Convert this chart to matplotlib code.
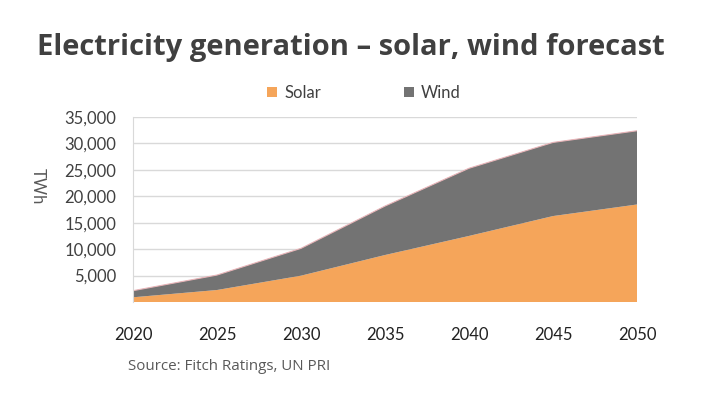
import matplotlib
matplotlib.use("Agg")
import matplotlib.pyplot as plt
import numpy as np

years = [2020, 2025, 2030, 2035, 2040, 2045, 2050]
solar = [890, 2270, 4980, 8890, 12500, 16260, 18450]
wind = [1250, 2830, 5170, 9260, 12800, 13930, 13950]
yticks = [5000, 10000, 15000, 20000, 25000, 30000, 35000]
xlabels = ["2020", "2025", "2030", "2035", "2040", "2045", "2050"]

solar_c = "#F5A55A"
wind_c = "#737373"
txt = "#404040"

fig = plt.figure(figsize=(7.08, 3.98), dpi=100)
ax = fig.add_axes([133/708, 1-302/398, (637-133)/708, (302-117)/398])

ax.stackplot(years, solar, wind, colors=[solar_c, wind_c], labels=["Solar", "Wind"],
             linewidth=0)
total = np.array(solar) + np.array(wind)
ax.plot(years, total, color="#E8B4B8", lw=0.8)

ax.set_xlim(2020, 2050)
ax.set_ylim(0, 35000)
ax.set_yticks(yticks)
ax.set_yticklabels([f"{v:,}" for v in yticks], fontsize=12, color=txt, family="Lato")
ax.set_xticks(years)
ax.set_xticklabels(xlabels, fontsize=12, color="#222222", family="Lato")
ax.tick_params(axis="both", length=0)
ax.tick_params(axis="x", pad=18)
ax.tick_params(axis="y", pad=12)
ax.grid(axis="y", color="#D9D9D9", lw=1)
ax.set_axisbelow(True)
for s in ["top", "right", "bottom"]:
    ax.spines[s].set_visible(False)
ax.spines["left"].set_color("#D9D9D9")

fig.text(38/708, 1-186/398, "TWh", rotation=-90, ha="center", va="center",
         fontsize=12, color="#595959", family="Lato")

fig.text(37/708, 1-48/398, "Electricity generation \u2013 solar, wind forecast",
         fontsize=21, fontweight="bold", color=txt, family="Open Sans",
         ha="left", va="center")

h, l = ax.get_legend_handles_labels()
leg = fig.legend(h, l, loc="center", bbox_to_anchor=(364/708, 1-93/398), ncol=2,
                 frameon=False, handlelength=0.6, handleheight=0.6,
                 columnspacing=5.0, handletextpad=0.4, prop={"family": "Lato", "size": 12})
for t in leg.get_texts():
    t.set_color(txt)

fig.text(128/708, 1-367/398, "Source: Fitch Ratings, UN PRI", fontsize=10.9,
         color="#595959", family="Open Sans", ha="left", va="center")

fig.savefig("out.png", dpi=100)
